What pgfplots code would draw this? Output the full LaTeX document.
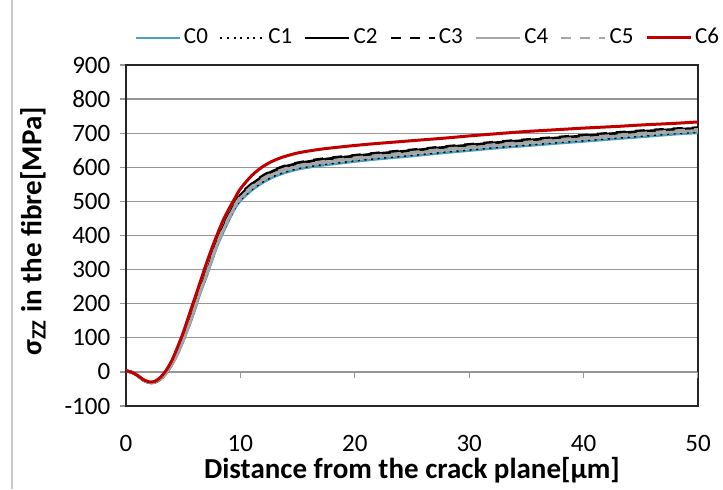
\documentclass[border=0pt]{standalone}
\usepackage{fontspec}
\setmainfont{Carlito}
\usepackage{pgfplots}
\pgfplotsset{compat=1.18}
\usepackage{pgfplotstable}
\definecolor{cZero}{RGB}{75,160,190}
\definecolor{cRed}{RGB}{192,0,0}
\definecolor{cGray}{RGB}{166,166,166}
\definecolor{gridGray}{RGB}{150,150,150}
\newcommand{\tickfont}{\fontsize{12.5}{15}\selectfont}
\newcommand{\legfont}{\fontsize{11.5}{13}\selectfont}

\pgfplotstableread{
x    c0   c1   c2   c3   c4   c5   c6
0    3    3    3    3    3    3    3
0.5  -1   -1   -1   -1   -1   -1   -1
1    -11  -11  -11  -11  -11  -11  -10
1.5  -24  -24  -24  -24  -24  -24  -22
2    -31  -31  -31  -31  -31  -31  -29
2.5  -31  -31  -31  -31  -31  -31  -28
3    -22  -21  -21  -20  -21  -21  -16
3.5  -5   -4   -4   -3   -4   -4   4
4    20   21   22   23   21   22   33
4.5  52   54   55   57   53   55   72
5    90   92   95   97   92   94   115
5.5  133  135  140  142  136  139  165
6    180  182  188  190  184  187  215
6.5  232  234  242  244  237  240  265
7    276  278  286  288  281  284  315
7.5  325  327  336  338  330  333  362
8    372  374  383  385  377  380  405
8.5  410  412  423  425  416  419  445
9    445  447  458  460  451  454  478
9.5  478  480  492  494  485  488  508
10   502  504  518  520  510  513  537
11   533  535  550  552  541  544  576
12   556  558  574  576  565  568  603
13   573  575  591  593  582  585  621
14   585  587  603  605  594  597  633
15   594  596  611  613  602  605  642
16   600  602  617  619  608  611  648
17   605  607  622  624  613  616  653
18   609  611  626  628  617  620  657
20   617  619  633  635  625  628  664
22   624  626  640  642  632  635  670
25   633  635  649  651  641  644  678
28   643  645  659  661  651  654  686
30   649  651  665  667  657  660  692
33   658  660  674  676  666  669  700
35   663  665  679  681  671  674  705
38   671  673  687  689  679  682  711
40   676  678  692  694  684  687  715
43   684  686  700  702  692  695  720
45   689  691  705  707  697  700  724
48   697  699  711  713  704  707  729
50   701  703  714  716  708  711  733
}\stress

\begin{document}
\fontsize{12.5}{15}\selectfont
\begin{tikzpicture}[font=\tickfont]
\path[use as bounding box] (-63pt,-41.5pt) rectangle (298.5pt,203pt);
\draw[cGray!60,line width=0.6pt] (-57pt,-41.5pt) -- (-57pt,203pt);
\begin{axis}[
  scale only axis,
  width=286pt,height=170.5pt,
  xmin=0,xmax=50,ymin=-100,ymax=900,
  xtick={0,10,20,30,40,50},
  ytick={-100,0,100,200,300,400,500,600,700,800,900},
  ymajorgrids=true,
  grid style={draw=gridGray,line width=0.6pt},
  axis line style={draw=black!85,line width=0.7pt},
  x tick style={draw=none},
  y tick style={draw=gridGray,line width=0.6pt},
  major tick length=3pt,
  tick align=outside,
  tick pos=left,
  xticklabel={\mbox{\tickfont\pgfmathprintnumber[assume math mode=true]{\tick}}},
  yticklabel={\mbox{\tickfont\pgfmathprintnumber[assume math mode=true]{\tick}}},
  tick label style={font=\tickfont},
  xticklabel style={anchor=center,yshift=-15.5pt,text=black},
  yticklabel style={anchor=east,xshift=-0.5pt,text=black},
  xlabel={\textbf{Distance from the crack plane[μm]}},
  xlabel style={font=\fontsize{14.5}{16}\selectfont,at={(axis description cs:0.5,0)},anchor=center,yshift=-32pt},
  ylabel={\textbf{σ\textsubscript{ZZ} in the fibre[MPa]}},
  ylabel style={font=\fontsize{14.5}{16}\selectfont,at={(axis description cs:-0.1626,0.512)},anchor=center},
  legend columns=7,
  legend style={draw=none,fill=none,at={(axis description cs:0,1)},anchor=west,
    xshift=1pt,yshift=13.5pt,font=\legfont,nodes={inner sep=0.5pt},
    /tikz/every odd column/.append style={column sep=1pt},
    /tikz/every even column/.append style={column sep=5.3pt}},
  legend image code/.code={\draw[#1] (0pt,0pt) -- (22pt,0pt);},
]
\addplot[cZero,line width=1.3pt,smooth] table[x=x,y=c0] {\stress};
\addlegendentry{\mbox{\legfont C0}}
\addplot[black,line width=0.9pt,dash pattern=on 1pt off 2.3pt,smooth] table[x=x,y=c1] {\stress};
\addlegendentry{\mbox{\legfont C1}}
\addplot[black,line width=1.4pt,smooth] table[x=x,y=c2] {\stress};
\addlegendentry{\mbox{\legfont C2}}
\addplot[black,line width=1.4pt,dash pattern=on 5pt off 4.5pt,smooth] table[x=x,y=c3] {\stress};
\addlegendentry{\mbox{\legfont C3}}
\addplot[cGray,line width=1.4pt,smooth] table[x=x,y=c4] {\stress};
\addlegendentry{\mbox{\legfont C4}}
\addplot[cGray,line width=1.4pt,dash pattern=on 5pt off 4.5pt,smooth] table[x=x,y=c5] {\stress};
\addlegendentry{\mbox{\legfont C5}}
\addplot[cRed,line width=1.5pt,smooth] table[x=x,y=c6] {\stress};
\addlegendentry{\mbox{\legfont C6}}
\foreach \t in {10,20,30,40,50} {
  \edef\tmp{\noexpand\draw[gridGray,line width=0.6pt] (axis cs:\t,0) -- ++(0pt,-3pt);}
  \tmp
}
\end{axis}
\end{tikzpicture}
\end{document}
